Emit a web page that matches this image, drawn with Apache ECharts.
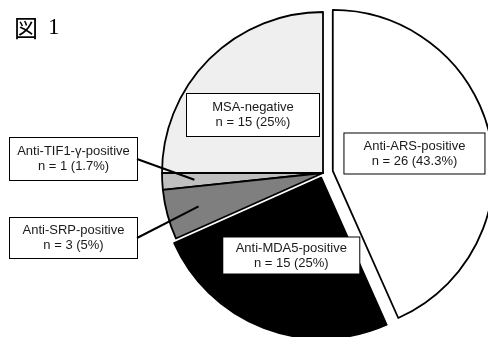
<!DOCTYPE html>
<html>
<head>
<meta charset="utf-8">
<script src="https://cdn.jsdelivr.net/npm/echarts@6/dist/echarts.min.js"></script>
<style>
  html, body { margin: 0; padding: 0; background: #ffffff; }
  #chart { width: 488px; height: 337px; }
</style>
</head>
<body>
<div id="chart"></div>
<script>
// Patient groups by myositis-specific antibody, drawn counter-clockwise from 12 o'clock
const groups = ['MSA-negative', 'Anti-TIF1-γ-positive', 'Anti-SRP-positive', 'Anti-MDA5-positive', 'Anti-ARS-positive'];
const counts = [15, 1, 3, 15, 26];

// Slice fills and how far (px) each slice is pulled out of the pie
const fills = ['#efefef', '#bfbfbf', '#7f7f7f', '#000000', '#ffffff'];
const pullOut = [0, 0, 0, 5, 10];

// Pie geometry and label boxes
const CX = 323, CY = 173, R = 161;
const labelSpots = [[253, 115], [73.5, 159], [73.5, 238], [280, 260], [415, 162]];
const labelWidths = [122, 117, 117, 126, 130];
const labelPads = [[6, 5], [6, 5], [5, 5], [3, 5], [5, 5]];
const calloutSide = [false, true, true, false, false];

const total = counts.reduce((a, b) => a + b, 0);
function pct(v) {
  const s = (v / total * 100).toFixed(1);
  return (s.endsWith('.0') ? s.slice(0, -2) : s) + '%';
}

// mid-angle (degrees, counter-clockwise from 3 o'clock) of each slice
const midAngles = [];
(function () {
  let a = 90;
  counts.forEach(v => {
    const span = v / total * 360;
    midAngles.push(a + span / 2);
    a += span;
  });
})();

const chart = echarts.init(document.getElementById('chart'), null, { renderer: 'canvas' });

const layers = Array.from(new Set(pullOut));

const series = layers.map(off => ({
  type: 'pie',
  center: [CX, CY],
  radius: R,
  startAngle: 90,
  clockwise: false,
  selectedMode: off > 0 ? 'multiple' : false,
  selectedOffset: off,
  avoidLabelOverlap: false,
  animation: false,
  silent: true,
  emphasis: { disabled: true },
  labelLine: { show: false },
  data: groups.map((g, i) => {
    const on = pullOut[i] === off;
    const style = on
      ? { color: fills[i], borderColor: '#000', borderWidth: 1.8 }
      : { color: 'rgba(0,0,0,0)', borderColor: 'rgba(0,0,0,0)', borderWidth: 0 };
    return {
      name: g,
      value: counts[i],
      selected: on && off > 0,
      itemStyle: style,
      select: { itemStyle: style },
      label: on ? {
        show: true,
        position: 'inside',
        formatter: g + '\nn = ' + counts[i] + ' (' + pct(counts[i]) + ')',
        fontFamily: '"Liberation Sans", Arial, sans-serif',
        fontSize: 13,
        lineHeight: 15,
        color: '#1a1a1a',
        width: labelWidths[i],
        align: 'center',
        backgroundColor: '#ffffff',
        borderColor: '#000000',
        borderWidth: 1,
        padding: labelPads[i]
      } : { show: false }
    };
  }),
  labelLayout: function (p) {
    const [x, y] = labelSpots[p.dataIndex];
    return { x: x, y: y, align: 'center', verticalAlign: 'middle' };
  }
}));

// Callout lines from inside the thin slices to their label boxes on the left
const callouts = [];
groups.forEach((g, i) => {
  if (!calloutSide[i]) return;
  const rad = midAngles[i] * Math.PI / 180;
  const [x, y] = labelSpots[i];
  callouts.push({
    type: 'line',
    z: 50,
    silent: true,
    shape: {
      x1: CX + 0.8 * R * Math.cos(rad),
      y1: CY - 0.8 * R * Math.sin(rad),
      x2: x + labelWidths[i] / 2 + labelPads[i][1],
      y2: y
    },
    style: { stroke: '#000', lineWidth: 2 }
  });
});

chart.setOption({
  backgroundColor: '#ffffff',
  title: {
    text: '{k|図} {n|1}',
    left: 9,
    top: 11,
    textStyle: {
      fontWeight: 'normal',
      rich: {
        k: { fontFamily: '"Noto Sans CJK JP", sans-serif', fontSize: 24, fontWeight: 'normal', color: '#000' },
        n: { fontFamily: '"Liberation Serif", serif', fontSize: 23, fontWeight: 'normal', color: '#000', padding: [0, 0, 0, 5] }
      }
    }
  },
  graphic: callouts,
  series: series
});
</script>
</body>
</html>
